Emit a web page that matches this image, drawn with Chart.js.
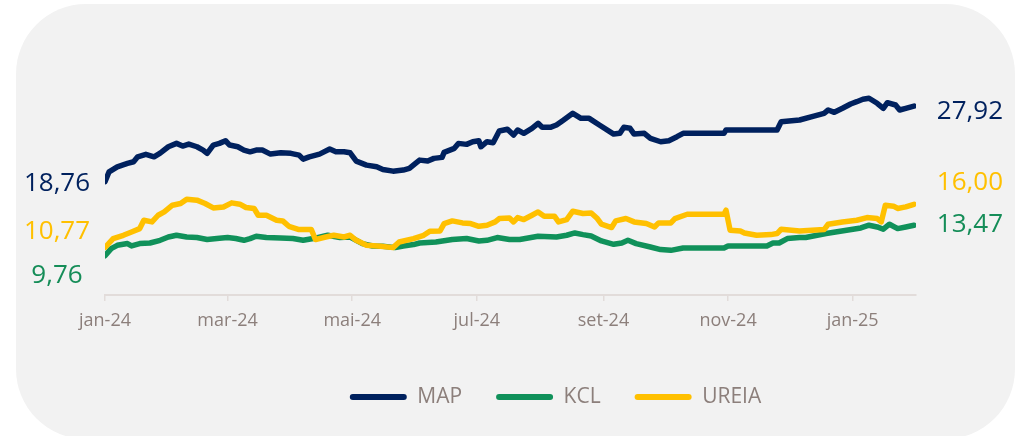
<!DOCTYPE html>
<html>
<head>
<meta charset="utf-8">
<script src="https://cdn.jsdelivr.net/npm/chart.js@4.4.1/dist/chart.umd.min.js"></script>
<style>
  html, body { margin: 0; padding: 0; background: #ffffff; }
  #wrap { position: relative; width: 1031px; height: 436px; overflow: hidden; }
  #panel { position: absolute; left: 16px; top: 4px; width: 999px; height: 435px; border-radius: 70px; background: #f2f2f2; }
  #c { position: absolute; left: 0; top: 0; }
</style>
</head>
<body>
<div id="wrap">
  <div id="panel"></div>
  <canvas id="c" width="1031" height="436"></canvas>
</div>
<script>
// x = days since 2024-01-01
const tickDays   = [0, 60, 121, 182, 244, 305, 366];
const tickLabels = ['jan-24', 'mar-24', 'mai-24', 'jul-24', 'set-24', 'nov-24', 'jan-25'];

const mapDays = [0,2,6,11,14,16,20,24,27,31,35,38,41,45,48,50,53,56,59,61,65,68,71,74,77,81,86,91,95,97,100,105,110,113,117,120,123,128,133,136,141,146,149,152,154,158,161,165,166,171,173,177,180,183,184,187,190,193,197,200,202,205,209,212,214,218,221,224,229,233,237,242,249,252,254,257,259,264,267,272,276,280,283,303,304,329,331,340,347,352,354,357,361,365,368,371,374,378,381,383,387,389,392,396];
const mapValues = [18.76,19.95,20.56,20.97,21.17,21.77,22.07,21.77,22.22,22.99,23.40,23.07,23.32,22.99,22.59,22.19,23.20,23.40,23.72,23.20,22.99,22.59,22.38,22.59,22.59,22.10,22.26,22.19,21.98,21.49,21.77,22.10,22.71,22.38,22.38,22.26,21.25,20.76,20.56,20.24,20.03,20.16,20.36,20.97,21.37,21.25,21.58,21.70,22.31,22.80,23.40,23.28,23.60,23.72,22.99,23.60,23.48,24.90,25.11,24.41,25.02,24.62,25.23,25.84,25.35,25.35,25.63,26.15,27.05,26.44,26.44,25.63,24.53,24.62,25.35,25.23,24.53,24.62,24.01,23.60,23.72,24.21,24.62,24.62,25.02,25.02,26.03,26.24,26.72,27.05,27.45,27.17,27.66,28.18,28.46,28.76,28.88,28.27,27.66,28.34,28.06,27.45,27.66,27.92];

const kclDays = [0,3,6,11,13,17,22,27,31,35,40,45,50,56,60,64,68,71,74,79,86,92,97,102,109,115,120,126,131,136,142,146,151,154,162,170,177,183,187,192,198,203,212,221,226,230,234,238,243,249,253,256,260,267,272,277,283,303,305,324,327,330,334,340,343,353,363,370,374,378,381,384,388,392,396];
const kclValues = [9.76,10.63,11.03,11.24,10.95,11.24,11.31,11.64,12.04,12.25,12.04,11.97,11.73,11.88,11.97,11.85,11.64,11.85,12.13,11.97,11.92,11.85,11.64,11.85,12.25,11.97,12.04,11.24,10.95,10.91,10.75,10.95,11.12,11.31,11.43,11.73,11.85,11.56,11.64,11.97,11.73,11.73,12.13,12.04,12.25,12.53,12.33,12.16,11.56,11.15,11.31,11.64,11.24,10.83,10.51,10.42,10.70,10.70,10.95,10.95,11.31,11.31,11.85,11.97,11.97,12.46,12.86,13.14,13.47,13.26,12.98,13.59,13.06,13.26,13.47];

const ureiaDays = [0,4,9,13,17,19,23,26,29,33,37,40,45,49,53,58,62,66,69,73,75,79,84,87,90,95,101,103,108,112,117,120,123,128,135,141,144,151,156,159,164,166,170,175,179,183,187,191,193,198,200,202,205,209,212,215,220,222,226,229,234,238,241,243,248,250,255,259,265,269,271,277,279,285,303,304,306,311,313,319,326,329,331,340,352,354,361,368,373,378,380,382,386,388,392,396];
const ureiaValues = [10.77,11.85,12.25,12.65,13.06,14.07,13.87,14.68,15.08,15.90,16.10,16.63,16.51,16.10,15.57,15.69,16.18,16.02,15.62,15.50,14.68,14.68,14.07,13.99,13.34,12.94,12.94,11.73,12.04,12.25,12.04,12.25,11.64,11.03,10.91,10.75,11.43,11.85,12.25,12.74,12.77,13.67,13.99,13.75,13.67,13.34,13.47,13.87,14.28,14.35,13.87,14.40,14.16,14.68,15.08,14.56,14.56,13.87,14.16,15.17,14.89,14.96,14.28,13.59,13.19,13.99,14.28,13.87,13.67,13.26,13.75,13.75,14.28,14.80,14.80,15.29,12.86,12.77,12.53,12.25,12.33,12.46,12.98,12.77,12.94,13.59,13.87,14.07,14.40,14.28,13.87,15.90,15.78,15.50,15.69,16.00];

const seriesNames  = ['MAP', 'KCL', 'UREIA'];
const seriesColors = ['#00215e', '#10915a', '#ffc000'];
const labelColors  = ['#00215e', '#158d58', '#ffc000'];

const toPts = (d, v) => d.map((x, i) => ({ x: x, y: v[i] }));

// label placement offsets (px) relative to each line's first / last point: MAP, KCL, UREIA
const leftOffsets  = [2, 20, -16];
const rightOffsets = [5, -1, -22];

const endLabels = {
  id: 'endLabels',
  afterDatasetsDraw(chart) {
    const ctx = chart.ctx;
    const ys = chart.scales.y;
    const area = chart.chartArea;
    ctx.save();
    ctx.font = '500 26px "Open Sans", sans-serif';
    ctx.textBaseline = 'middle';
    chart.data.datasets.forEach((ds, i) => {
      const first = ds.data[0].y;
      const last = ds.data[ds.data.length - 1].y;
      const fmt = v => v.toFixed(2).replace('.', ',');
      ctx.fillStyle = labelColors[i];
      ctx.textAlign = 'center';
      ctx.fillText(fmt(first), area.left - 48, ys.getPixelForValue(first) + leftOffsets[i]);
      ctx.textAlign = 'right';
      ctx.fillText(fmt(last), area.right + 87, ys.getPixelForValue(last) + rightOffsets[i]);
    });
    ctx.restore();
  }
};

const datasets = [
  { label: seriesNames[0], data: toPts(mapDays, mapValues) },
  { label: seriesNames[1], data: toPts(kclDays, kclValues) },
  { label: seriesNames[2], data: toPts(ureiaDays, ureiaValues) }
].map((d, i) => Object.assign(d, {
  borderColor: seriesColors[i],
  backgroundColor: seriesColors[i],
  borderWidth: 5.5,
  pointRadius: 0,
  pointHoverRadius: 0,
  tension: 0,
  borderJoinStyle: 'round',
  borderCapStyle: 'round',
  fill: false,
  order: [0, 2, 1][i]
}));

const axisColor = '#e2dcda';
const textColor = '#8c7f7b';

new Chart(document.getElementById('c'), {
  type: 'line',
  data: { datasets: datasets },
  plugins: [endLabels],
  options: {
    responsive: false,
    animation: false,
    events: [],
    layout: { padding: { left: 90, right: 10, top: 89, bottom: 18.5 } },
    scales: {
      x: {
        type: 'linear',
        min: 0,
        max: 397,
        position: 'bottom',
        border: { display: true, color: axisColor, width: 2 },
        grid: { display: true, drawOnChartArea: false, drawTicks: true, tickLength: 6, color: axisColor, lineWidth: 1.5 },
        ticks: {
          autoSkip: false,
          maxRotation: 0,
          padding: 9,
          color: textColor,
          font: { family: '"Open Sans", sans-serif', size: 18 },
          callback: (v) => { const k = tickDays.indexOf(v); return k >= 0 ? tickLabels[k] : ''; }
        },
        afterBuildTicks: (s) => { s.ticks = tickDays.map(v => ({ value: v })); },
        afterFit: (s) => { s.height = 57.5; s.paddingLeft = 0; s.paddingRight = 0; }
      },
      y: {
        type: 'linear',
        min: 5,
        max: 30,
        position: 'left',
        border: { display: false },
        grid: { display: false },
        ticks: { display: false },
        afterFit: (s) => { s.width = 15; }
      },
      yR: {
        type: 'linear',
        position: 'right',
        border: { display: false },
        grid: { display: false },
        ticks: { display: false },
        afterFit: (s) => { s.width = 105; }
      }
    },
    plugins: {
      tooltip: { enabled: false },
      title: { display: false },
      legend: {
        display: true,
        position: 'bottom',
        align: 'center',
        labels: {
          boxWidth: 57,
          boxHeight: 6,
          padding: 34,
          useBorderRadius: true,
          borderRadius: 3,
          color: textColor,
          font: { family: '"Open Sans", sans-serif', size: 21 },
          sort: (a, b) => a.datasetIndex - b.datasetIndex,
          generateLabels: (chart) => Chart.defaults.plugins.legend.labels.generateLabels(chart).map(l => Object.assign(l, { lineWidth: 0, fillStyle: seriesColors[l.datasetIndex], strokeStyle: seriesColors[l.datasetIndex] }))
        }
      }
    }
  }
});
</script>
</body>
</html>
